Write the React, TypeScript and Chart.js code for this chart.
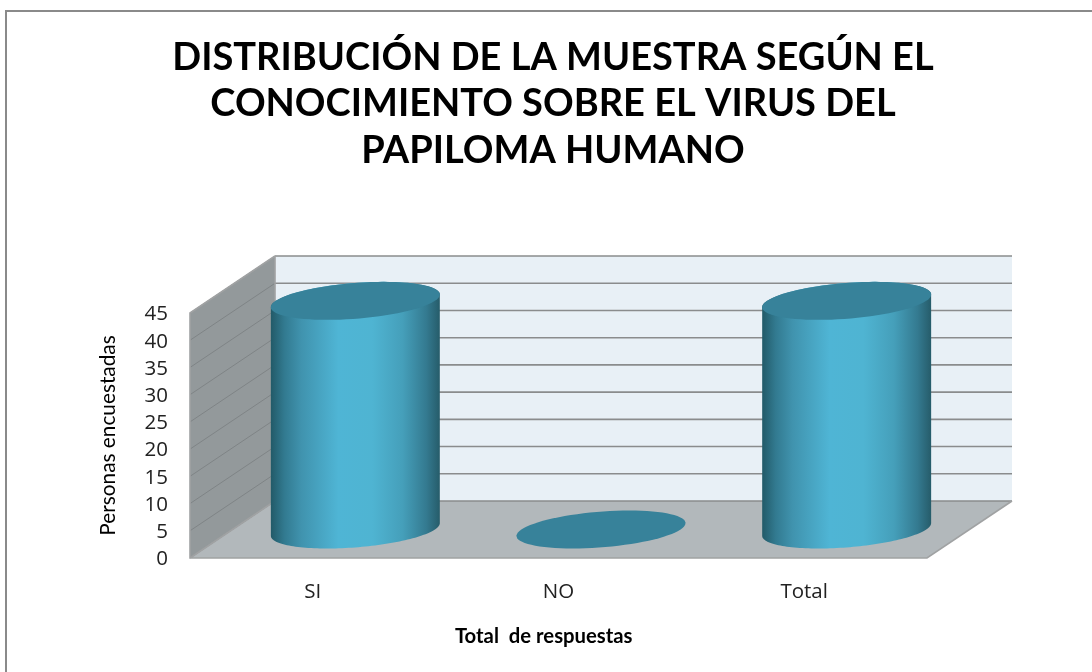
import React, { useEffect, useRef } from "react";
import { Chart, registerables, BarController, BarElement } from "chart.js";

Chart.register(...registerables);

const categories = ["SI", "NO", "Total"];
const seriesValues = [42, 0, 42];
const seriesName = "Personas encuestadas";
const titleLines = [
  "DISTRIBUCIÓN DE LA MUESTRA SEGÚN EL",
  "CONOCIMIENTO SOBRE EL VIRUS DEL",
  "PAPILOMA HUMANO",
];
const yAxisTitle = "Personas encuestadas";
const xAxisTitle = "Total  de respuestas      ";

const DEPTH_X = 85;
const DEPTH_Y = 57;

function ellipsePoint(cx: number, cy: number, t: number) {
  const ux = 79.6, vx = 28.3, vy = -19;
  return [cx + ux * Math.cos(t) + vx * Math.sin(t), cy + vy * Math.sin(t)];
}

function traceEllipse(ctx: CanvasRenderingContext2D, cx: number, cy: number, from: number, to: number, move: boolean) {
  const n = 80;
  for (let i = 0; i <= n; i++) {
    const t = from + ((to - from) * i) / n;
    const [x, y] = ellipsePoint(cx, cy, t);
    if (i === 0 && move) ctx.moveTo(x, y);
    else ctx.lineTo(x, y);
  }
}

class CylinderElement extends BarElement {
  static id = "cylinder";
  static defaults = { ...BarElement.defaults };
  static defaultRoutes = BarElement.defaultRoutes;
  draw(ctx: CanvasRenderingContext2D) {
    const { x, y, base } = this as any;
    const cx = x + DEPTH_X / 2;
    const topY = y - DEPTH_Y / 2;
    const baseY = base - DEPTH_Y / 2;
    const tangent = Math.atan2(28.3, 79.6);
    const topColor = "#37829a";
    ctx.save();
    if (base - y > 0.5) {
      const left = cx - 84.5, right = cx + 84.5;
      const g = ctx.createLinearGradient(left, 0, right, 0);
      g.addColorStop(0, "#225a68");
      g.addColorStop(0.08, "#327a90");
      g.addColorStop(0.18, "#4093ae");
      g.addColorStop(0.4, "#4fb5d5");
      g.addColorStop(0.6, "#4fb4d2");
      g.addColorStop(0.78, "#459fba");
      g.addColorStop(0.92, "#347a90");
      g.addColorStop(1, "#265c6a");
      ctx.beginPath();
      traceEllipse(ctx, cx, topY, tangent, tangent + Math.PI, true);
      traceEllipse(ctx, cx, baseY, tangent + Math.PI, tangent + 2 * Math.PI, false);
      ctx.closePath();
      ctx.fillStyle = g;
      ctx.fill();
    }
    ctx.beginPath();
    traceEllipse(ctx, cx, topY, 0, 2 * Math.PI, true);
    ctx.closePath();
    ctx.fillStyle = topColor;
    ctx.fill();
    ctx.restore();
  }
}

class CylinderController extends BarController {
  static id = "cylinderBar";
  static defaults = { ...BarController.defaults, dataElementType: "cylinder" };
  static overrides = BarController.overrides;
}

Chart.register(CylinderElement as any, CylinderController as any);

const wallsPlugin = {
  id: "walls",
  beforeDatasetsDraw(chart: any) {
    const { ctx, chartArea, scales } = chart;
    const { left, right, top, bottom } = chartArea;
    ctx.save();
    ctx.fillStyle = "#e8f0f6";
    ctx.fillRect(left + DEPTH_X, top - DEPTH_Y, right - left, bottom - top);
    ctx.fillStyle = "#93999b";
    ctx.beginPath();
    ctx.moveTo(left, top);
    ctx.lineTo(left + DEPTH_X, top - DEPTH_Y);
    ctx.lineTo(left + DEPTH_X, bottom - DEPTH_Y);
    ctx.lineTo(left, bottom);
    ctx.closePath();
    ctx.fill();
    ctx.fillStyle = "#b2b8bb";
    ctx.beginPath();
    ctx.moveTo(left, bottom);
    ctx.lineTo(left + DEPTH_X, bottom - DEPTH_Y);
    ctx.lineTo(right + DEPTH_X, bottom - DEPTH_Y);
    ctx.lineTo(right, bottom);
    ctx.closePath();
    ctx.fill();
    for (const tick of scales.y.ticks) {
      const py = scales.y.getPixelForValue(tick.value);
      ctx.strokeStyle = "#8a8c8d";
      ctx.lineWidth = 1.6;
      ctx.beginPath();
      ctx.moveTo(left + DEPTH_X, py - DEPTH_Y);
      ctx.lineTo(right + DEPTH_X, py - DEPTH_Y);
      ctx.stroke();
      ctx.lineWidth = 1;
      ctx.strokeStyle = "#7f8486";
      ctx.beginPath();
      ctx.moveTo(left, py);
      ctx.lineTo(left + DEPTH_X, py - DEPTH_Y);
      ctx.stroke();
    }
    ctx.strokeStyle = "#a0a2a3";
    ctx.lineWidth = 1.6;
    ctx.beginPath();
    ctx.moveTo(left + DEPTH_X, top - DEPTH_Y);
    ctx.lineTo(left, top);
    ctx.lineTo(left, bottom);
    ctx.lineTo(right, bottom);
    ctx.lineTo(right + DEPTH_X, bottom - DEPTH_Y);
    ctx.moveTo(left, bottom);
    ctx.lineTo(left + DEPTH_X, bottom - DEPTH_Y);
    ctx.lineTo(left + DEPTH_X, top - DEPTH_Y);
    ctx.stroke();
    ctx.restore();
  },
};

const framePlugin = {
  id: "frame",
  beforeDraw(chart: any) {
    const { ctx, width, height } = chart;
    ctx.save();
    ctx.fillStyle = "#ffffff";
    ctx.fillRect(0, 0, width, height);
    ctx.strokeStyle = "#8a8a8a";
    ctx.lineWidth = 2;
    ctx.beginPath();
    ctx.moveTo(6, height);
    ctx.lineTo(6, 11);
    ctx.lineTo(width, 11);
    ctx.stroke();
    ctx.restore();
  },
};

export default function App() {
  const ref = useRef<HTMLCanvasElement>(null);
  useEffect(() => {
    const chart = new Chart(ref.current!, {
      type: "cylinderBar" as any,
      data: {
        labels: categories,
        datasets: [
          {
            label: seriesName,
            data: seriesValues,
            backgroundColor: "#4fb5d5",
            barPercentage: 0.688,
            categoryPercentage: 1,
            clip: false,
          },
        ],
      },
      options: {
        animation: false,
        responsive: false,
        layout: { padding: { left: 14, right: 0, top: 0, bottom: 0 } },
        plugins: {
          legend: { display: false },
          tooltip: { enabled: false },
          title: {
            display: true,
            text: titleLines,
            color: "#000000",
            font: { family: "Lato", size: 38, weight: "bold", lineHeight: 1.224 },
            padding: { top: 34, bottom: 139.5 },
          },
        },
        scales: {
          x: {
            grid: { display: false, drawTicks: false },
            border: { display: false },
            ticks: { color: "#222222", font: { family: "Open Sans", size: 20.5 }, padding: 22 },
            title: {
              display: true,
              text: xAxisTitle,
              color: "#000000",
              font: { family: "Lato", size: 20.3, weight: "bold" },
              padding: { top: 0, bottom: 23 },
            },
            afterFit(scale: any) {
              scale.height = 114;
            },
          },
          y: {
            min: 0,
            max: 45,
            grid: { display: false, drawTicks: false },
            border: { display: false },
            ticks: {
              stepSize: 5,
              autoSkip: false,
              color: "#222222",
              font: { family: "Open Sans", size: 20.5 },
              padding: 22,
              labelOffset: 1.5,
            },
            title: {
              display: true,
              text: yAxisTitle,
              color: "#000000",
              font: { family: "Lato", size: 20.8 },
              padding: { top: 82, bottom: 0 },
            },
            afterFit(scale: any) {
              scale.width = 176;
            },
          },
          spacer: {
            position: "right",
            min: 0,
            max: 1,
            grid: { display: false, drawTicks: false },
            border: { display: false },
            ticks: { display: false },
            afterFit(scale: any) {
              scale.width = 165;
            },
          },
        },
      } as any,
      plugins: [framePlugin, wallsPlugin],
    });
    return () => chart.destroy();
  }, []);
  return (
    <div style={{ position: "absolute", left: 0, top: 0, width: 1092, height: 672 }}>
      <canvas ref={ref} width={1092} height={672} style={{ display: "block" }} />
    </div>
  );
}
